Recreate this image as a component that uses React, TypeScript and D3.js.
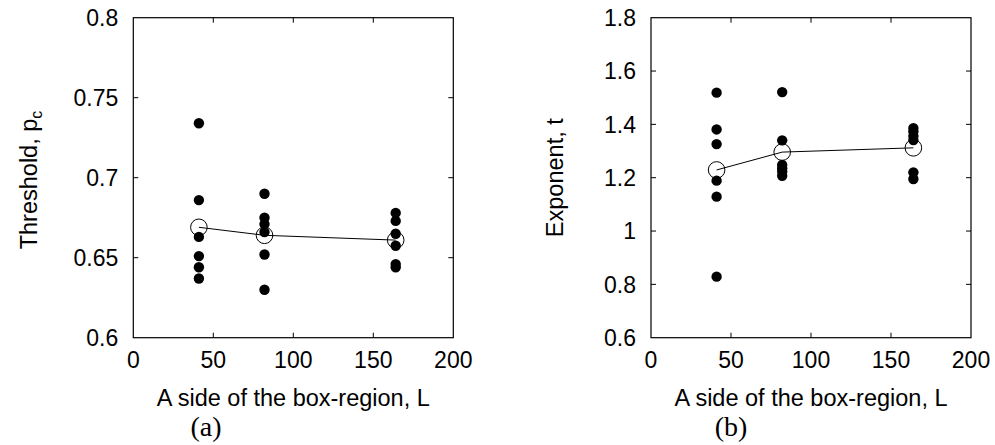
import React from "react";
import * as d3 from "d3";

// ---- data ----
const sideL = [41, 82, 164];

// Panel (a): threshold p_c for individual runs at each L
const thresholdRuns = [
  [0.734, 0.686, 0.663, 0.651, 0.644, 0.637],
  [0.690, 0.675, 0.671, 0.666, 0.652, 0.630],
  [0.678, 0.673, 0.665, 0.6575, 0.646, 0.644],
];
const thresholdMean = [0.669, 0.664, 0.661];

// Panel (b): exponent t for individual runs at each L
const exponentRuns = [
  [1.519, 1.381, 1.326, 1.189, 1.129, 0.829],
  [1.521, 1.340, 1.248, 1.235, 1.223, 1.207],
  [1.386, 1.373, 1.356, 1.341, 1.220, 1.195],
];
const exponentMean = [1.229, 1.296, 1.312];

const xTicks = [0, 50, 100, 150, 200];
const yTicksA = [0.6, 0.65, 0.7, 0.75, 0.8];
const yTickLabelsA = ["0.6", "0.65", "0.7", "0.75", "0.8"];
const yTicksB = [0.6, 0.8, 1.0, 1.2, 1.4, 1.6, 1.8];
const yTickLabelsB = ["0.6", "0.8", "1", "1.2", "1.4", "1.6", "1.8"];

const SANS = "'Liberation Sans', Arial, Helvetica, sans-serif";
const SERIF = "'Liberation Serif', 'Times New Roman', serif";
const FS = 23;
const FSL = 23.5;

type PanelProps = {
  left: number;
  right: number;
  top: number;
  bottom: number;
  yDomain: [number, number];
  yTicks: number[];
  yTickLabels: string[];
  runs: number[][];
  means: number[];
  yLabel: React.ReactNode;
  yLabelX: number;
  yLabelY: number;
  tag: string;
  tagX: number;
};

function Panel(p: PanelProps) {
  const x = d3.scaleLinear().domain([0, 200]).range([p.left, p.right]);
  const y = d3.scaleLinear().domain(p.yDomain).range([p.bottom, p.top]);
  const line = d3
    .line<number>()
    .x((_, i) => x(sideL[i]))
    .y((d) => y(d));
  const tickLen = 5;
  const cx = (p.left + p.right) / 2;
  return (
    <g>
      {/* ticks */}
      {xTicks.slice(1, -1).map((t) => (
        <g key={"xt" + t}>
          <line x1={x(t)} x2={x(t)} y1={p.bottom} y2={p.bottom - tickLen} stroke="#000" />
          <line x1={x(t)} x2={x(t)} y1={p.top} y2={p.top + tickLen} stroke="#000" />
        </g>
      ))}
      {p.yTicks.slice(1, -1).map((t) => (
        <g key={"yt" + t}>
          <line x1={p.left} x2={p.left + tickLen} y1={y(t)} y2={y(t)} stroke="#000" />
          <line x1={p.right} x2={p.right - tickLen} y1={y(t)} y2={y(t)} stroke="#000" />
        </g>
      ))}
      <rect
        x={p.left}
        y={p.top}
        width={p.right - p.left}
        height={p.bottom - p.top}
        fill="none"
        stroke="#000"
        strokeWidth={1.2}
      />
      {/* tick labels */}
      {xTicks.map((t) => (
        <text key={"xl" + t} x={x(t)} y={368} textAnchor="middle" fontFamily={SANS} fontSize={FS}>
          {t}
        </text>
      ))}
      {p.yTicks.map((t, i) => (
        <text
          key={"yl" + t}
          x={p.left - 15}
          y={y(t)}
          dy="0.36em"
          textAnchor="end"
          fontFamily={SANS}
          fontSize={FS}
        >
          {p.yTickLabels[i]}
        </text>
      ))}
      {/* axis labels */}
      <text x={cx} y={406} textAnchor="middle" fontFamily={SANS} fontSize={FSL}>
        A side of the box-region, L
      </text>
      <text
        transform={`translate(${p.yLabelX},${p.yLabelY}) rotate(-90)`}
        textAnchor="middle"
        fontFamily={SANS}
        fontSize={FSL}
      >
        {p.yLabel}
      </text>
      <text x={p.tagX} y={436} textAnchor="middle" fontFamily={SERIF} fontSize={28}>
        {p.tag}
      </text>
      {/* data points */}
      {p.runs.map((col, i) =>
        col.map((v, j) => (
          <circle key={`d${i}-${j}`} cx={x(sideL[i])} cy={y(v)} r={5.2} fill="#000" />
        ))
      )}
      <path d={line(p.means) || ""} fill="none" stroke="#000" strokeWidth={1} />
      {p.means.map((v, i) => (
        <circle key={"m" + i} cx={x(sideL[i])} cy={y(v)} r={8.3} fill="none" stroke="#000" strokeWidth={1} />
      ))}
    </g>
  );
}

export default function App() {
  return (
    <svg
      width={995}
      height={445}
      style={{ position: "absolute", left: 0, top: 0, background: "#fff" }}
    >
      <rect x={0} y={0} width={995} height={445} fill="#fff" />
      <Panel
        left={133.3}
        right={453.3}
        top={17.7}
        bottom={337.7}
        yDomain={[0.6, 0.8]}
        yTicks={yTicksA}
        yTickLabels={yTickLabelsA}
        runs={thresholdRuns}
        means={thresholdMean}
        yLabel={
          <>
            Threshold, p
            <tspan fontSize={16} dy="5">c</tspan>
          </>
        }
        yLabelX={37}
        yLabelY={180}
        tag="(a)"
        tagX={206}
      />
      <Panel
        left={651}
        right={971}
        top={17.7}
        bottom={337.7}
        yDomain={[0.6, 1.8]}
        yTicks={yTicksB}
        yTickLabels={yTickLabelsB}
        runs={exponentRuns}
        means={exponentMean}
        yLabel={<>Exponent, t</>}
        yLabelX={563}
        yLabelY={177.7}
        tag="(b)"
        tagX={731}
      />
    </svg>
  );
}
